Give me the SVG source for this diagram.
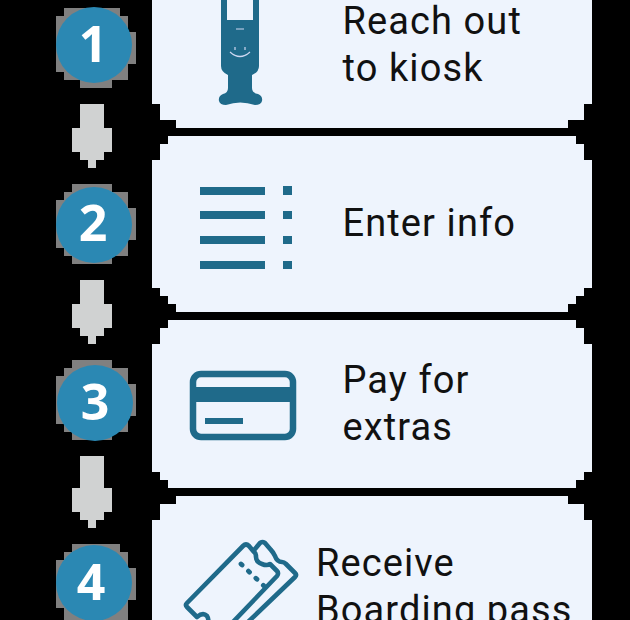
<svg xmlns="http://www.w3.org/2000/svg" width="630" height="620" viewBox="0 0 630 620">
<style>
.card{fill:#eef4fd;shape-rendering:crispEdges}
.halo{fill:#808080;shape-rendering:crispEdges}
.num{fill:#2b88b3}
.numt{font:700 50px "Open Sans","Noto Sans",sans-serif;fill:#fff;text-anchor:middle}
.lab{font:38px Roboto,"Noto Sans",sans-serif;fill:#111;letter-spacing:1.1px}
.ic{fill:#1f6a8a}
.ln{fill:none;stroke:#1f6a8a;stroke-width:4.6;stroke-linejoin:round;stroke-linecap:round}
.arr{fill:#d0d2d2;shape-rendering:crispEdges}
.face{fill:none;stroke:#cfd8f2;stroke-width:1.2}
</style>
<rect width="630" height="620" fill="#000"/>
<g id="connectors">
<path class="arr" d="M80 104h24v24h8v24h-8v8h-8v8h-8v-8h-8v-8h-8v-24h8z"/>
<path class="arr" d="M80 280h24v24h8v24h-8v8h-8v8h-8v-8h-8v-8h-8v-24h8z"/>
<path class="arr" d="M80 456h24v32h8v24h-8v8h-8v8h-8v-8h-8v-8h-8v-24h8z"/>
</g>
<g id="step1">
<path class="halo" d="M64 8H120V16H128V32H136V64H128V80H112V88H80V80H64V72H56V16H64Z"/>
<circle class="num" cx="94" cy="45" r="38"/>
<text class="numt" x="93" y="62">1</text>
<path class="card" d="M152 0H592V104H584V120H568V128H176V120H160V104H152Z"/>
<path class="ic" d="M221 0H259V66Q259 72 252 75V88Q252 93 258 94Q263 96 262 101Q261 105 255 105Q240 100 226 105Q220 105 219 101Q218 96 223 94Q228 93 228 88V75Q221 72 221 66Z"/>
<rect x="227" y="0" width="26" height="20" fill="#eef4fd"/>
<path class="face" d="M236 29h8M230 52q10 9 20 0"/>
<path class="face" d="M235 47v3M245 47v3"/>
<text class="lab" x="342.5" y="34">Reach out</text>
<text class="lab" x="342.5" y="81">to kiosk</text>
</g>
<g id="step2">
<path class="halo" d="M72 184H112V192H128V208H136V240H128V256H112V264H72V256H64V248H56V200H64V192H72Z"/>
<circle class="num" cx="94" cy="225" r="38"/>
<text class="numt" x="93" y="241">2</text>
<path class="card" d="M168 136H576V144H584V160H592V288H584V296H576V304H568V312H176V304H168V296H160V288H152V160H160V144H168Z"/>
<g class="ic">
<rect x="200" y="187" width="65" height="8"/><rect x="200" y="211" width="65" height="8"/><rect x="200" y="236" width="65" height="8"/><rect x="200" y="261" width="65" height="8"/>
<rect x="283" y="186" width="9" height="9"/><rect x="283" y="211" width="9" height="8"/><rect x="283" y="236" width="9" height="8"/><rect x="283" y="261" width="9" height="8"/>
</g>
<text class="lab" x="342.5" y="236">Enter info</text>
</g>
<g id="step3">
<path class="halo" d="M72 360H112V368H128V384H136V416H128V432H112V440H72V432H64V424H56V376H64V368H72Z"/>
<circle class="num" cx="95" cy="403" r="38"/>
<text class="numt" x="95" y="420">3</text>
<path class="card" d="M168 320H576V328H584V344H592V472H584V480H576V488H168V480H160V472H152V344H160V328H168Z"/>
<rect x="193" y="374" width="100" height="63" rx="8" fill="none" stroke="#1f6a8a" stroke-width="6.5"/>
<rect class="ic" x="193" y="387" width="100" height="15"/>
<rect class="ic" x="205" y="418" width="38" height="6"/>
<text class="lab" x="342.5" y="393">Pay for</text>
<text class="lab" x="342.5" y="440">extras</text>
</g>
<g id="step4">
<path class="halo" d="M72 544H120V552H128V568H136V600H128V620H64V608H56V560H64V552H72Z"/>
<circle class="num" cx="94" cy="583" r="38"/>
<text class="numt" x="91" y="600">4</text>
<path class="card" d="M176 496H568V504H584V520H592V620H152V520H160V504H176Z"/>
<path class="ln" d="M233 622L277 576Q279 573 277 571L270 564Q267 566 262 564Q256 562 256 557Q256 553 254 552L249 546Q246 543 243 546L187 603Q185 605 187 607L197 617Q203 612 207 616Q209 619 208 622"/>
<path class="ln" d="M255 549L260 543Q262 541 265 543L271 550Q273 552 275 556Q277 562 282 562Q284 562 286 564L295 573Q297 575 295 577L248 622"/>
<path d="M241 564L264 586" fill="none" stroke="#1f6a8a" stroke-width="4.8" stroke-linecap="round" stroke-dasharray="1.5 8.8"/>
<text class="lab" x="316" y="576">Receive</text>
<text class="lab" x="316" y="623">Boarding pass</text>
</g>
</svg>
